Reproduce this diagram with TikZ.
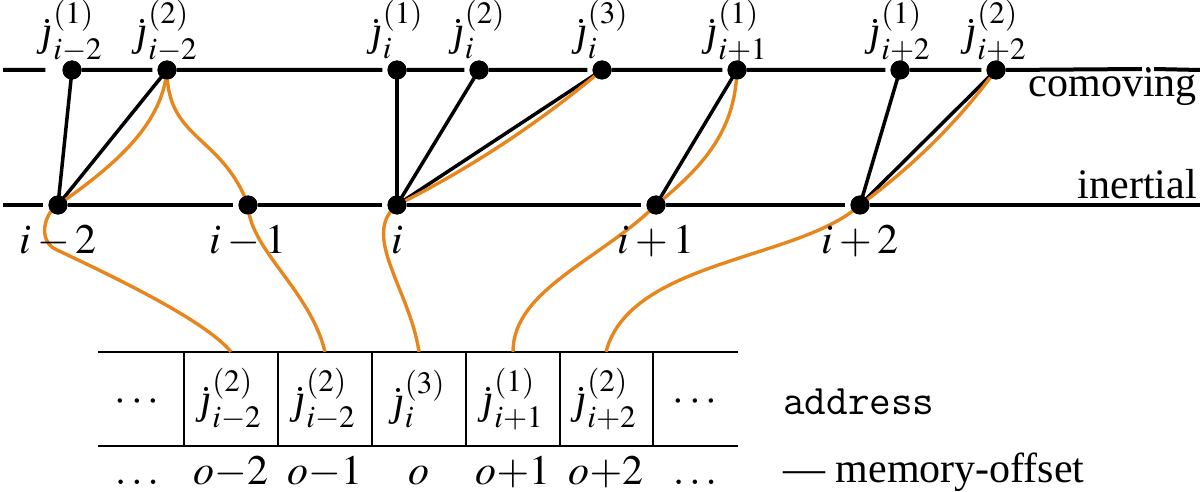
\documentclass[tikz,border=0pt]{standalone}
\usepackage{mathptmx}
\usepackage{fontspec}
\setmainfont{Liberation Serif}
\definecolor{orng}{RGB}{232,134,30}
\tikzset{
  axisline/.style={line width=4pt},
  conn/.style={line width=3.5pt},
  link/.style={orng, line width=3.4pt},
  boxline/.style={line width=2pt},
  dotnode/.style={circle, fill=black, inner sep=0pt, minimum size=19pt},
  tinydot/.style={circle, fill=black, inner sep=0pt, minimum size=4pt},
  lbl/.style={inner sep=0pt, font=\fontsize{42}{50}\selectfont},
  cell/.style={inner sep=0pt, minimum width=94pt, minimum height=94pt},
}
\newcommand{\jdl}{\mbox{\itshape\char"0237}}
\newcommand{\jd}[2]{\dot{\jdl}^{(#1)}_{#2}}
\begin{document}
\begin{tikzpicture}[x=1pt,y=-1pt]
\useasboundingbox (0,0) rectangle (1200,492);
% dots (comoving)
\node[dotnode] (a1) at (72,70) {};
\node[dotnode] (a2) at (167,70) {};
\node[dotnode] (b1) at (397,70) {};
\node[dotnode] (b2) at (479,70) {};
\node[dotnode] (b3) at (602,70) {};
\node[dotnode] (c1) at (737,70) {};
\node[dotnode] (d1) at (900,70) {};
\node[dotnode] (d2) at (996,70) {};
\node[tinydot] (tk) at (1148,69) {};
% dots (inertial)
\node[dotnode] (im2) at (58,205) {};
\node[dotnode] (im1) at (248,205) {};
\node[dotnode] (i0) at (397,205) {};
\node[dotnode] (ip1) at (656,205) {};
\node[dotnode] (ip2) at (860,205) {};
\coordinate (tl) at (3,70);
\coordinate (tr) at (1200,70);
\coordinate (bl) at (3,205);
\coordinate (br) at (1200,205);
% axes
\draw[axisline] (tl) -- ([xshift=-17pt]a1.west)
  (a1.east) -- ([xshift=-5pt]a2.west)
  (a2.east) -- ([xshift=-5pt]b1.west)
  (b1.east) -- ([xshift=-5pt]b2.west)
  (b2.east) -- ([xshift=-5pt]b3.west)
  (b3.east) -- ([xshift=-5pt]c1.west)
  (c1.east) -- ([xshift=-5pt]d1.west)
  (d1.east) -- ([xshift=-5pt]d2.west)
  (d2.east) -- ([xshift=-4pt]tk.west)
  ([xshift=4pt]tk.east) -- (tr);
\draw[axisline] (bl) -- ([xshift=-5pt]im2.west)
  (im2.east) -- ([xshift=-5pt]im1.west)
  (im1.east) -- ([xshift=-5pt]i0.west)
  (i0.east) -- ([xshift=-5pt]ip1.west)
  (ip1.east) -- ([xshift=-5pt]ip2.west)
  (ip2.east) -- (br);
% black connectors
\draw[conn] (a1.center) -- (im2.center);
\draw[conn] (a2.center) -- (im2.center);
\draw[conn] (b1.center) -- (i0.center);
\draw[conn] (b2.center) -- (i0.center);
\draw[conn] (b3.center) -- (i0.center);
\draw[conn] (c1.center) -- (ip1.center);
\draw[conn] (d1.center) -- (ip2.center);
\draw[conn] (d2.center) -- (ip2.center);
% memory cells
\node[cell] (m0) at (141,399) {};
\node[cell] (m1) at (231,399) {};
\node[cell] (m2) at (325,399) {};
\node[cell] (m3) at (419,399) {};
\node[cell] (m4) at (513,399) {};
\node[cell] (m5) at (606,399) {};
\node[cell] (m6) at (695,399) {};
\node[lbl, anchor=base] at (137,411) {$\cdots$};
\node[lbl] at (m1) {$\jd{2}{i-2}$};
\node[lbl] at (m2) {$\jd{2}{i-2}$};
\node[lbl] at (m3) {$\jd{3}{i}$};
\node[lbl] at (m4) {$\jd{1}{i+1}$};
\node[lbl] at (m5) {$\jd{2}{i+2}$};
\node[lbl, anchor=base] at (695,411) {$\cdots$};
\draw[boxline] (98,352) -- (738,352) (98,446) -- (738,446);
\draw[boxline] (184,352) -- (184,446) (278,352) -- (278,446) (372,352) -- (372,446)
  (466,352) -- (466,446) (560,352) -- (560,446) (653,352) -- (653,446);
% orange links
\draw[link] (a2.center) .. controls (162,125) and (115,165) .. (im2.center);
\draw[link] (a2.center) .. controls (167,140) and (222,135) .. (im1.center);
\draw[link] (b3.center) .. controls (539,123) and (471,168) .. (i0.center);
\draw[link] (c1.center) .. controls (735,130) and (705,165) .. (ip1.center);
\draw[link] (d2.center) .. controls (958,122) and (912,167) .. (ip2.center);
\draw[link] (im2.center) .. controls (44,213) and (38,240) .. (55,249)
  .. controls (110,275) and (205,320) .. (m1.north);
\draw[link] (im1.center) .. controls (250,250) and (310,290) .. (m2.north);
\draw[link] (i0.center) .. controls (360,235) and (410,290) .. (m3.north);
\draw[link] (ip1.center) .. controls (600,260) and (513,290) .. (m4.north);
\draw[link] (ip2.center) .. controls (800,260) and (630,260) .. (m5.north);
% redraw dots on top
\foreach \n in {a1,a2,b1,b2,b3,c1,d1,d2,im2,im1,i0,ip1,ip2}
  \fill (\n) circle (9.5pt);
% top labels
\node[lbl, anchor=base] at (72,46) {$\jd{1}{i-2}$};
\node[lbl, anchor=base] at (167,46) {$\jd{2}{i-2}$};
\node[lbl, anchor=base] at (397,46) {$\jd{1}{i}$};
\node[lbl, anchor=base] at (479,46) {$\jd{2}{i}$};
\node[lbl, anchor=base] at (602,46) {$\jd{3}{i}$};
\node[lbl, anchor=base] at (737,46) {$\jd{1}{i+1}$};
\node[lbl, anchor=base] at (900,46) {$\jd{1}{i+2}$};
\node[lbl, anchor=base] at (996,46) {$\jd{2}{i+2}$};
% bottom labels
\node[lbl, anchor=base] at (58,253) {$i-2$};
\node[lbl, anchor=base] at (248,253) {$i-1$};
\node[lbl, anchor=base] at (397,253) {$i$};
\node[lbl, anchor=base] at (656,253) {$i+1$};
\node[lbl, anchor=base] at (860,253) {$i+2$};
\node[lbl, anchor=base east] at (1197,97) {comoving};
\node[lbl, anchor=base east] at (1197,198) {inertial};
% offsets
\node[lbl, anchor=base] at (137,484) {$\ldots$};
\node[lbl, anchor=base] at (231,484) {$o{-}2$};
\node[lbl, anchor=base] at (325,484) {$o{-}1$};
\node[lbl, anchor=base] at (419,484) {$o$};
\node[lbl, anchor=base] at (513,484) {$o{+}1$};
\node[lbl, anchor=base] at (606,484) {$o{+}2$};
\node[lbl, anchor=base] at (695,484) {$\ldots$};
\node[lbl, anchor=base west] at (783,414) {\ttfamily address};
\node[lbl, anchor=base west] at (783,482) {— memory-offset};
\end{tikzpicture}
\end{document}
